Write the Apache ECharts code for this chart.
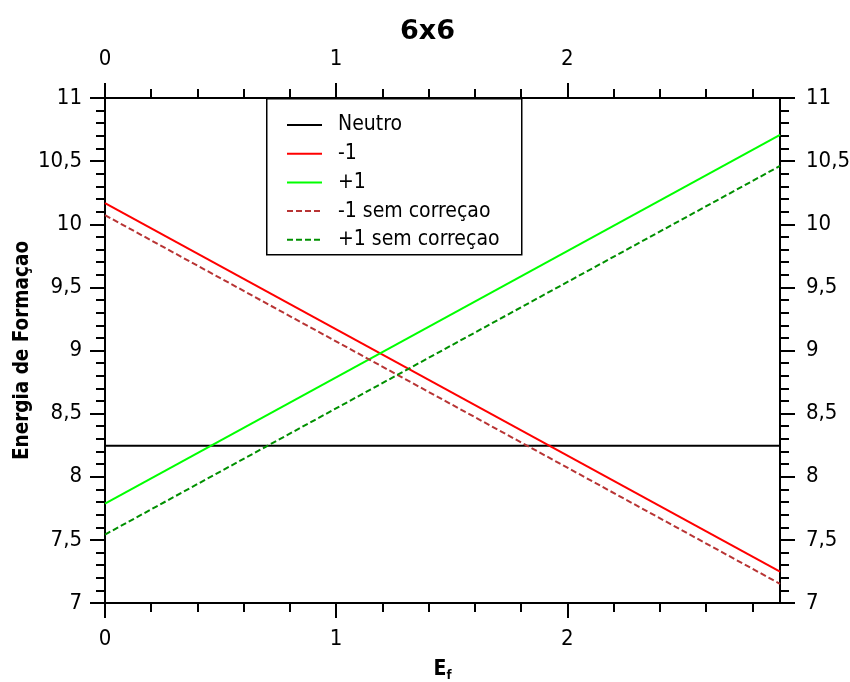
<!DOCTYPE html>
<html>
<head>
<meta charset="utf-8">
<title>6x6</title>
<script src="https://cdn.jsdelivr.net/npm/echarts@6/dist/echarts.min.js"></script>
<style>
  html, body { margin: 0; padding: 0; background: #fff; }
  #chart { width: 850px; height: 682px; }
</style>
</head>
<body>
<div id="chart"></div>
<script>
// Formation energy of each charge state versus the Fermi level (E_f)
const efRange = [0, 2.92];
const neutro = [8.245, 8.245];
const minus1 = [10.168, 7.248];
const plus1 = [7.787, 10.707];
const minus1Sem = [10.072, 7.152];
const plus1Sem = [7.542, 10.462];

const seriesNames = ['Neutro', '-1', '+1', '-1 sem correçao', '+1 sem correçao'];

// Tick positions on the E_f axes
const xMajorTicks = [0, 1, 2];
const xMinorTicks = [0.2, 0.4, 0.6, 0.8, 1.2, 1.4, 1.6, 1.8, 2.2, 2.4, 2.6, 2.8];

const FONT = '"DejaVu Sans Condensed", "DejaVu Sans", sans-serif';

function pairs(ys) {
  return efRange.map((x, i) => [x, ys[i]]);
}

const comma = v => String(v).replace('.', ',');

function xAxisDef(position, major) {
  return {
    type: 'value',
    position: position,
    min: efRange[0],
    max: efRange[1],
    axisLine: { show: major, onZero: false, lineStyle: { color: '#000', width: 2 } },
    axisTick: {
      show: true,
      customValues: major ? xMajorTicks : xMinorTicks,
      length: major ? 15 : 9,
      lineStyle: { color: '#000', width: 2 }
    },
    axisLabel: {
      show: major,
      customValues: xMajorTicks,
      color: '#000',
      fontFamily: FONT,
      fontSize: 22,
      margin: position === 'bottom' ? 25 : 28
    },
    splitLine: { show: false }
  };
}

function yAxisDef(position) {
  return {
    type: 'value',
    position: position,
    min: 7,
    max: 11,
    interval: 0.5,
    axisLine: { show: true, onZero: false, lineStyle: { color: '#000', width: 2 } },
    axisTick: { show: true, length: 15, lineStyle: { color: '#000', width: 2 } },
    minorTick: { show: true, splitNumber: 5, length: 9, lineStyle: { color: '#000', width: 2 } },
    axisLabel: {
      color: '#000',
      fontFamily: FONT,
      fontSize: 22,
      margin: position === 'left' ? 23 : 26,
      formatter: comma
    },
    splitLine: { show: false },
    minorSplitLine: { show: false }
  };
}

const xb = xAxisDef('bottom', true);
xb.name = '{e|E}{f|f}';
xb.nameLocation = 'middle';
xb.nameGap = 55;
xb.nameMoveOverlap = false;
xb.nameTextStyle = {
  rich: {
    e: { fontFamily: FONT, fontWeight: 'bold', fontSize: 21, color: '#000' },
    f: { fontFamily: FONT, fontWeight: 'bold', fontSize: 13, color: '#000', padding: [11, 0, 0, 0] }
  }
};

const yl = yAxisDef('left');
yl.name = 'Energia de Formaçao';
yl.nameLocation = 'middle';
yl.nameGap = 72;
yl.nameMoveOverlap = false;
yl.nameTextStyle = { fontFamily: FONT, fontWeight: 'bold', fontSize: 20.5, color: '#000' };

function line(name, ys, color, dashed) {
  return {
    name: name,
    type: 'line',
    xAxisIndex: 0,
    yAxisIndex: 0,
    data: pairs(ys),
    symbol: 'none',
    silent: true,
    lineStyle: { color: color, width: 2, type: dashed ? [6, 3] : 'solid' },
    itemStyle: { color: color }
  };
}

const chart = echarts.init(document.getElementById('chart'), null, { renderer: 'canvas' });
chart.setOption({
  animation: false,
  backgroundColor: '#fff',
  title: {
    text: '6x6',
    left: 395,
    top: 13,
    textStyle: { fontFamily: '"DejaVu Sans", sans-serif', fontWeight: 'bold', fontSize: 27, color: '#000' }
  },
  grid: { left: 105, right: 70, top: 98, bottom: 79, containLabel: false, outerBoundsMode: 'none' },
  xAxis: [xb, xAxisDef('bottom', false), xAxisDef('top', true), xAxisDef('top', false)],
  yAxis: [yl, yAxisDef('right')],
  graphic: [{
    type: 'rect',
    left: 266,
    top: 98,
    shape: { width: 255, height: 156 },
    style: { fill: '#fff', stroke: '#000', lineWidth: 1.5 },
    z: 5
  }],
  legend: {
    data: seriesNames,
    orient: 'vertical',
    left: 286,
    top: 114,
    padding: 0,
    itemWidth: 35,
    itemHeight: 14,
    itemGap: 6.7,
    selectedMode: false,
    z: 10,
    itemStyle: { opacity: 0 },
    textStyle: { fontFamily: FONT, fontSize: 21, color: '#000', lineHeight: 22, padding: [0, 0, 0, 11] }
  },
  series: [
    line(seriesNames[0], neutro, '#000000', false),
    line(seriesNames[1], minus1, '#ff0000', false),
    line(seriesNames[2], plus1, '#00ff00', false),
    line(seriesNames[3], minus1Sem, '#b83434', true),
    line(seriesNames[4], plus1Sem, '#009000', true)
  ]
});
</script>
</body>
</html>
